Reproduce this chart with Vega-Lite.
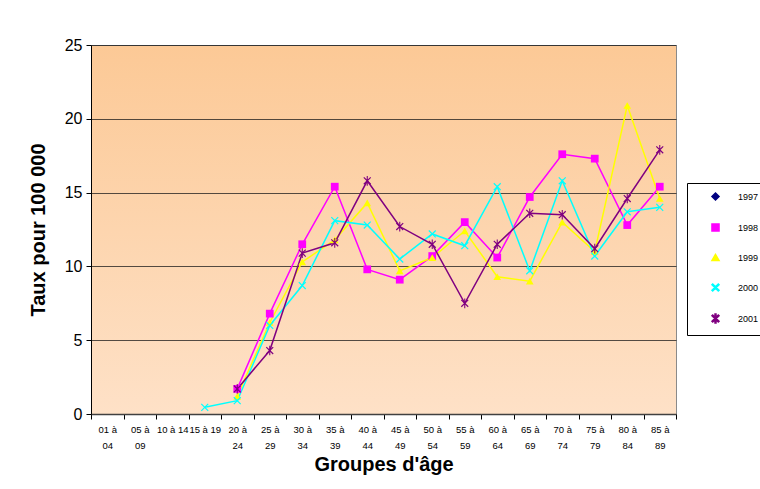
{
  "$schema": "https://vega.github.io/schema/vega-lite/v6.json",
  "width": 585,
  "height": 369,
  "autosize": "none",
  "padding": {"left": 91, "top": 45, "right": 84, "bottom": 75},
  "background": "white",
  "config": {
    "font": "Liberation Sans",
    "view": {
      "stroke": "#8a8a8a",
      "strokeWidth": 1,
      "fill": {
        "gradient": "linear",
        "x1": 0, "y1": 0, "x2": 0, "y2": 1,
        "stops": [
          {"offset": 0, "color": "#FCC996"},
          {"offset": 1, "color": "#FEE1C7"}
        ]
      }
    },
    "axis": {
      "labelFont": "Liberation Sans",
      "titleFont": "Liberation Sans",
      "labelColor": "black",
      "titleColor": "black",
      "tickColor": "black",
      "domainColor": "black"
    }
  },
  "data": {
    "values": [
      {"age": "20 à 24", "year": "1998", "taux": 1.7},
      {"age": "25 à 29", "year": "1998", "taux": 6.8},
      {"age": "30 à 34", "year": "1998", "taux": 11.5},
      {"age": "35 à 39", "year": "1998", "taux": 15.4},
      {"age": "40 à 44", "year": "1998", "taux": 9.8},
      {"age": "45 à 49", "year": "1998", "taux": 9.1},
      {"age": "50 à 54", "year": "1998", "taux": 10.7},
      {"age": "55 à 59", "year": "1998", "taux": 13.0},
      {"age": "60 à 64", "year": "1998", "taux": 10.6},
      {"age": "65 à 69", "year": "1998", "taux": 14.7},
      {"age": "70 à 74", "year": "1998", "taux": 17.6},
      {"age": "75 à 79", "year": "1998", "taux": 17.3},
      {"age": "80 à 84", "year": "1998", "taux": 12.8},
      {"age": "85 à 89", "year": "1998", "taux": 15.4},

      {"age": "20 à 24", "year": "1999", "taux": 1.2},
      {"age": "25 à 29", "year": "1999", "taux": 6.2},
      {"age": "30 à 34", "year": "1999", "taux": 10.3},
      {"age": "35 à 39", "year": "1999", "taux": 11.8},
      {"age": "40 à 44", "year": "1999", "taux": 14.3},
      {"age": "45 à 49", "year": "1999", "taux": 9.7},
      {"age": "50 à 54", "year": "1999", "taux": 10.6},
      {"age": "55 à 59", "year": "1999", "taux": 12.4},
      {"age": "60 à 64", "year": "1999", "taux": 9.3},
      {"age": "65 à 69", "year": "1999", "taux": 9.0},
      {"age": "70 à 74", "year": "1999", "taux": 13.0},
      {"age": "75 à 79", "year": "1999", "taux": 11.0},
      {"age": "80 à 84", "year": "1999", "taux": 20.9},
      {"age": "85 à 89", "year": "1999", "taux": 14.6},

      {"age": "15 à 19", "year": "2000", "taux": 0.45},
      {"age": "20 à 24", "year": "2000", "taux": 0.9},
      {"age": "25 à 29", "year": "2000", "taux": 6.0},
      {"age": "30 à 34", "year": "2000", "taux": 8.7},
      {"age": "35 à 39", "year": "2000", "taux": 13.1},
      {"age": "40 à 44", "year": "2000", "taux": 12.8},
      {"age": "45 à 49", "year": "2000", "taux": 10.5},
      {"age": "50 à 54", "year": "2000", "taux": 12.2},
      {"age": "55 à 59", "year": "2000", "taux": 11.4},
      {"age": "60 à 64", "year": "2000", "taux": 15.4},
      {"age": "65 à 69", "year": "2000", "taux": 9.7},
      {"age": "70 à 74", "year": "2000", "taux": 15.8},
      {"age": "75 à 79", "year": "2000", "taux": 10.7},
      {"age": "80 à 84", "year": "2000", "taux": 13.7},
      {"age": "85 à 89", "year": "2000", "taux": 14.0},

      {"age": "20 à 24", "year": "2001", "taux": 1.7},
      {"age": "25 à 29", "year": "2001", "taux": 4.3},
      {"age": "30 à 34", "year": "2001", "taux": 10.9},
      {"age": "35 à 39", "year": "2001", "taux": 11.6},
      {"age": "40 à 44", "year": "2001", "taux": 15.8},
      {"age": "45 à 49", "year": "2001", "taux": 12.7},
      {"age": "50 à 54", "year": "2001", "taux": 11.5},
      {"age": "55 à 59", "year": "2001", "taux": 7.5},
      {"age": "60 à 64", "year": "2001", "taux": 11.5},
      {"age": "65 à 69", "year": "2001", "taux": 13.6},
      {"age": "70 à 74", "year": "2001", "taux": 13.5},
      {"age": "75 à 79", "year": "2001", "taux": 11.2},
      {"age": "80 à 84", "year": "2001", "taux": 14.6},
      {"age": "85 à 89", "year": "2001", "taux": 17.9}
    ]
  },
  "encoding": {
    "x": {
      "field": "age",
      "type": "nominal",
      "sort": null,
      "scale": {
        "domain": ["01 à 04", "05 à 09", "10 à 14", "15 à 19", "20 à 24", "25 à 29", "30 à 34", "35 à 39", "40 à 44", "45 à 49", "50 à 54", "55 à 59", "60 à 64", "65 à 69", "70 à 74", "75 à 79", "80 à 84", "85 à 89"],
        "paddingInner": 0,
        "paddingOuter": 0
      },
      "axis": {
        "title": "Groupes d'âge",
        "titleFontSize": 20,
        "titleFontWeight": "bold",
        "titlePadding": 5,
        "labelAngle": 0,
        "labelFontSize": 9.5,
        "labelLineHeight": 16,
        "labelPadding": 5,
        "labelExpr": "!isString(datum.value) || indexof(['10 à 14', '15 à 19'], datum.value) >= 0 ? datum.label : [substring(datum.value, 0, 4), substring(datum.value, 5)]",
        "tickBand": "extent",
        "tickSize": 5,
        "domainColor": "#404040",
        "domainWidth": 1.5,
        "grid": false
      }
    },
    "y": {
      "field": "taux",
      "type": "quantitative",
      "scale": {"domain": [0, 25], "nice": false},
      "axis": {
        "title": "Taux pour 100 000",
        "titleFontSize": 20,
        "titleFontWeight": "bold",
        "titlePadding": 16,
        "values": [0, 5, 10, 15, 20, 25],
        "labelFontSize": 16,
        "labelPadding": 4,
        "tickSize": 5,
        "grid": true,
        "gridColor": "#1a1a1a",
        "gridOpacity": 0.75,
        "gridWidth": 1
      }
    },
    "color": {
      "field": "year",
      "type": "nominal",
      "scale": {
        "domain": ["1997", "1998", "1999", "2000", "2001"],
        "range": ["#000080", "#FF00FF", "#FFFF00", "#00FFFF", "#800080"]
      },
      "legend": {
        "title": null,
        "orient": "none",
        "legendX": 596,
        "legendY": 138,
        "padding": 9,
        "strokeColor": "black",
        "fillColor": "white",
        "labelFontSize": 9,
        "labelColor": "black",
        "symbolOffset": 15,
        "symbolSize": 50,
        "labelOffset": 18,
        "rowPadding": 16
      }
    }
  },
  "layer": [
    {
      "mark": {"type": "line", "strokeWidth": 1.5}
    },
    {
      "mark": {"type": "point", "filled": true, "size": 60, "opacity": 1},
      "encoding": {
        "shape": {
          "field": "year",
          "type": "nominal",
          "scale": {
            "domain": ["1997", "1998", "1999", "2000", "2001"],
            "range": [
              "diamond",
              "square",
              "triangle-up",
              "M-1,-0.78L-0.78,-1L1,0.78L0.78,1ZM-1,0.78L0.78,-1L1,-0.78L-0.78,1Z",
              "M-1,-0.78L-0.78,-1L1,0.78L0.78,1ZM-1,0.78L0.78,-1L1,-0.78L-0.78,1ZM-0.14,-1.25H0.14V1.25H-0.14Z"
            ]
          },
          "legend": null
        }
      }
    }
  ]
}
